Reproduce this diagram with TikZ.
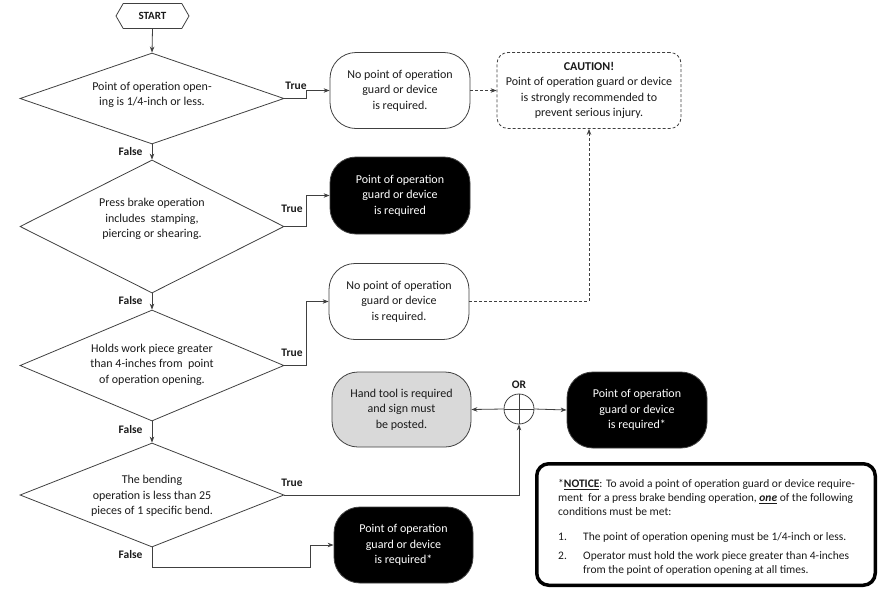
\documentclass[tikz,border=0pt]{standalone}
\usepackage{fontspec}
\setmainfont{Carlito}
\usetikzlibrary{shapes.geometric,shapes.symbols,arrows.meta,calc}
\definecolor{lnc}{HTML}{404040}
\definecolor{txc}{HTML}{1A1A1A}
\definecolor{grayfill}{HTML}{D9D9D9}
\begin{document}
\begin{tikzpicture}[x=1pt,y=-1pt, font=\fontsize{12}{15.5}\selectfont, text=txc,
 line/.style={draw=lnc, line width=0.8pt},
 arr/.style={line, -{Stealth[length=6pt,width=4.5pt]}},
 dsh/.style={dash pattern=on 3pt off 2pt},
 dec/.style={diamond, line, inner sep=0pt, minimum width=264pt},
 dtxt/.style={align=center, inner sep=0pt},
 term/.style={line, rounded corners=26pt, minimum width=140pt, minimum height=76pt, align=center, inner sep=0pt},
 blk/.style={term, fill=black, text=white},
 lbl/.style={font=\fontsize{11.5}{13}\selectfont\bfseries}
]
\useasboundingbox (0,0) rectangle (892,598);

\node[line, signal, signal to=east and west, signal pointer angle=120, minimum width=73pt, minimum height=25pt, inner sep=0pt, font=\fontsize{11}{13}\selectfont\bfseries] (start) at (152.5,16) {START};

\node[dec, aspect=2.9, minimum height=91pt] (d1) at (152,98.5) {};
\node[dtxt] (d1t) at (152,95) {Point of operation open-\\ing is 1/4-inch or less.};
\node[dec, aspect=2.0, minimum height=133pt] (d2) at (152,226.5) {};
\node[dtxt] (d2t) at (152,219) {Press brake operation\\includes\ \ stamping,\\piercing or shearing.};
\node[dec, aspect=2.4, minimum height=111pt] (d3) at (152,365.5) {};
\node[dtxt] (d3t) at (152,364.5) {Holds work piece greater\\than 4-inches from\ \ point\\of operation opening.};
\node[dec, aspect=2.5, minimum height=104pt] (d4) at (152,495) {};
\node[dtxt] (d4t) at (152,496) {The bending\\operation is less than 25\\pieces of 1 specific bend.};

\node[term] (A) at (400,90.5) {No point of operation\\guard or device\\is required.};
\node[line, dsh, rounded corners=11pt, minimum width=184pt, minimum height=76pt, align=center, inner sep=0pt] (caution) at (589,90.5) {\textbf{CAUTION!}\\Point of operation guard or device\\is strongly recommended to\\prevent serious injury.};
\node[blk, minimum height=77pt] (B) at (400,195.5) {Point of operation\\guard or device\\is required};
\node[term] (C) at (399,301.5) {No point of operation\\guard or device\\is required.};
\node[term, fill=grayfill, minimum width=139pt, minimum height=75pt] (D) at (401.5,409.5) {Hand tool is required\\and sign must\\be posted.};
\node[line, circle, minimum size=30pt, inner sep=0pt] (or) at (519,409) {};
\node[lbl] (orl) at (519,385) {OR};
\node[blk] (E) at (637,410) {Point of operation\\guard or device\\is required*};
\node[blk, minimum width=139pt] (F) at (403.5,545) {Point of operation\\guard or device\\is required*};

\node[draw=black, line width=3.5pt, rounded corners=12pt, minimum width=338.5pt, minimum height=121.5pt, inner sep=0pt] (notice) at (706,524.5) {};
\node[anchor=north west, inner sep=0pt, align=left, font=\fontsize{11.5}{14}\selectfont] (noticet) at (558,479) {*\underline{\textbf{NOTICE}}: To avoid a point of operation guard or device require-\\
ment\ \ for a press brake bending operation, \underline{\textbf{\textit{one}}} of the following\\
conditions must be met:\\[11pt]
\makebox[25pt][l]{1.}The point of operation opening must be 1/4-inch or less.\\[5pt]
\makebox[25pt][l]{2.}Operator must hold the work piece greater than 4-inches\\
\hspace*{25pt}from the point of operation opening at all times.};

% connectors
\draw[arr] (start.south) -- (d1.north);
\draw[arr] (d1.east) -- ++(22,0) |- (A.west);
\draw[arr, dsh] (A.east) -- (caution.west);
\draw[arr] (d1.south) -- (d2.north);
\draw[arr] (d2.east) -- ++(22,0) |- (B.west);
\draw[arr] (d2.south) -- (d3.north);
\draw[arr] (d3.east) -- ++(22,0) |- (C.west);
\draw[arr, dsh] (C.east) -| (caution.south);
\draw[arr] (d3.south) -- (d4.north);
\draw[arr] (d4.east) -| (or.south);
\draw[line] (or.north) -- (or.south) (or.west) -- (or.east);
\draw[arr] (or.west) -- (D.east);
\draw[arr] (or.east) -- (E.west);
\coordinate (fb) at (310,567);
\draw[arr] (d4.south) |- (fb) |- (F.west);

% labels
\node[lbl] (t1) at (296,86) {True};
\node[lbl] (t2) at (292,209) {True};
\node[lbl] (t3) at (292,353) {True};
\node[lbl] (t4) at (292,483) {True};
\node[lbl, anchor=east] (f1) at (146,152) {False};
\node[lbl, anchor=east] (f2) at (146,301) {False};
\node[lbl, anchor=east] (f3) at (146,429) {False};
\node[lbl, anchor=east] (f4) at (146,554) {False};
\end{tikzpicture}
\end{document}
